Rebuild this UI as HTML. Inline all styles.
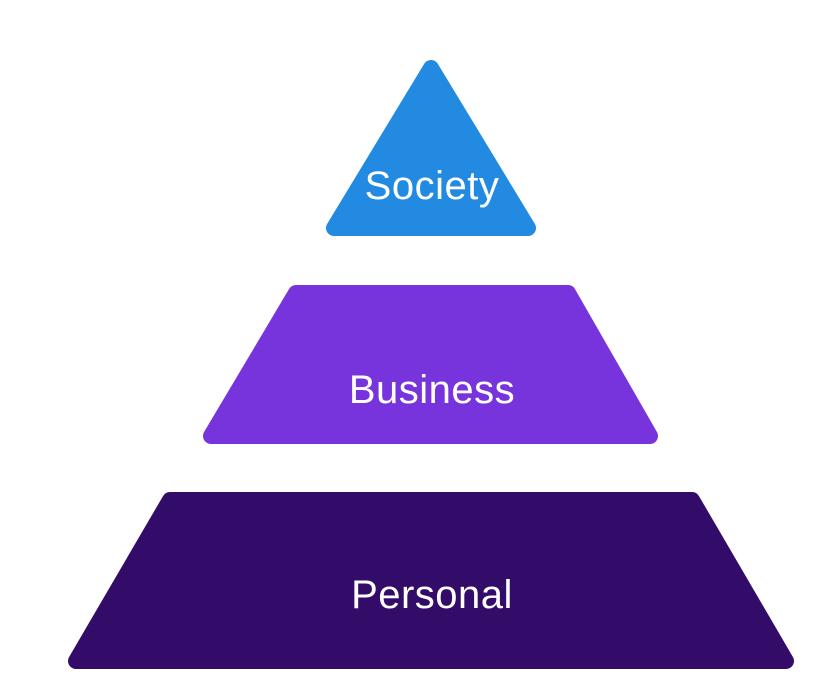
<!DOCTYPE html>
<html><head><meta charset="utf-8"><style>
html,body{margin:0;padding:0;background:#fff;}
svg{display:block;}
text{font-family:"Liberation Sans",sans-serif;fill:#fff;text-anchor:middle;letter-spacing:0.5px;}
</style></head><body>
<svg width="828" height="700" viewBox="0 0 828 700" xmlns="http://www.w3.org/2000/svg">
<polygon points="431,68 528,228 334,228" fill="#228be1" stroke="#228be1" stroke-width="16" stroke-linejoin="round"/>
<polygon points="296,293 568,293 650,436 211,436" fill="#7734dc" stroke="#7734dc" stroke-width="16" stroke-linejoin="round"/>
<polygon points="170,500 692,500 786,661 76,661" fill="#330b69" stroke="#330b69" stroke-width="16" stroke-linejoin="round"/>
<text x="432" y="199" font-size="40">Society</text>
<text x="432" y="403" font-size="40">Business</text>
<text x="432" y="608" font-size="40">Personal</text>
</svg>
</body></html>
